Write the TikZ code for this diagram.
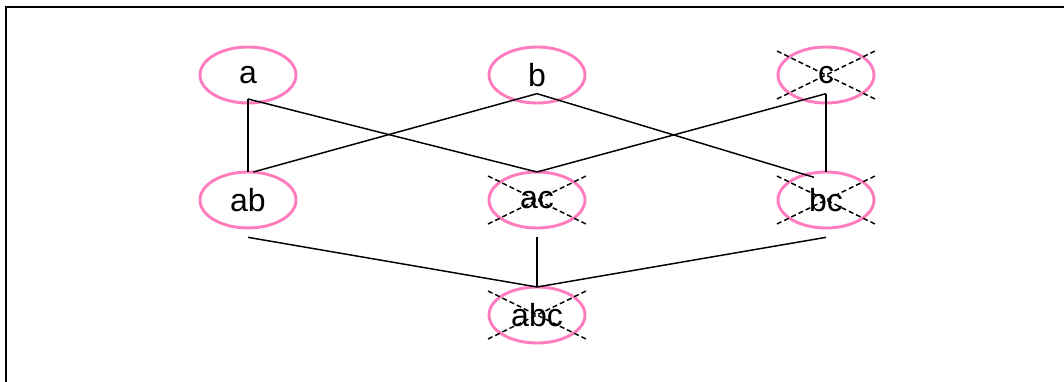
\documentclass[tikz,border=0pt]{standalone}
\usepackage{fontspec}
\setmainfont{Liberation Sans}
\usepackage{xcolor}
\usetikzlibrary{positioning, shapes.geometric}
\definecolor{setpink}{RGB}{255,125,190}

\begin{document}
\begin{tikzpicture}[
  node distance=51.75pt and 144.75pt,
  subset/.style={ellipse, draw=setpink, line width=2.2pt, minimum width=72pt, minimum height=42pt, inner sep=0pt, outer sep=0pt, text depth=-2pt, font=\fontsize{24}{28}\selectfont},
  link/.style={draw, line width=1.1pt},
  crossed/.style={draw, line width=1.1pt, dash pattern=on 3.75pt off 2.25pt}
]
  \useasboundingbox (0,0) rectangle (798pt,-286.5pt);
  \draw[line width=1.5pt] (4.5pt,-286.5pt) |- (798pt,-5.25pt);

  \node[subset] (a) at (186pt,-56.25pt) {a};
  \node[subset, right=of a] (b) {b};
  \node[subset, right=of b] (c) {c};

  \node[subset, below=of a] (ab) {ab};
  \node[subset, below=of b] (ac) {ac};
  \node[subset, below=of c] (bc) {bc};

  \node[subset, below=44.25pt of ac] (abc) {abc};

  % crossed-out sets
  \foreach \n in {c, ac, bc, abc} {
    \draw[crossed] ([shift={(-36.75pt,18pt)}]\n.center) -- ([shift={(36.75pt,-18pt)}]\n.center);
    \draw[crossed] ([shift={(-36.75pt,-18pt)}]\n.center) -- ([shift={(36.75pt,18pt)}]\n.center);
  }

  \draw[link] ([yshift=-18pt]a.center) -- (ab.north);
  \draw[link] ([yshift=-18pt]a.center) -- (ac.north);
  \draw[link] ([yshift=-14pt]b.center) -- ([xshift=4pt]ab.north);
  \draw[link] ([yshift=-14pt]b.center) -- ([xshift=-9pt,yshift=-4pt]bc.north);
  \draw[link] ([yshift=-14pt]c.center) -- (ac.north);
  \draw[link] ([yshift=-14pt]c.center) -- (bc.north);

  \draw[link] ([yshift=-7pt]ab.south) -- (abc.north);
  \draw[link] ([yshift=-7pt]ac.south) -- (abc.north);
  \draw[link] ([yshift=-7pt]bc.south) -- (abc.north);
\end{tikzpicture}
\end{document}
